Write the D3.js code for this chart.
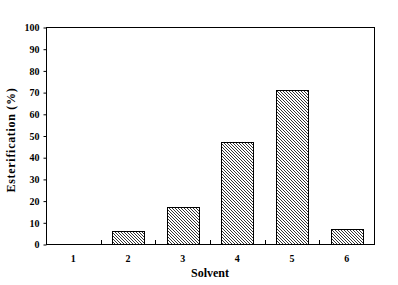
<!DOCTYPE html>
<html><head><meta charset="utf-8">
<script src="https://cdn.jsdelivr.net/npm/d3@7"></script>
<style>body{margin:0;background:#fff}svg{display:block}text{font-family:"Liberation Serif","Times New Roman",serif;font-weight:bold;fill:#000}</style>
</head><body>
<script>
const categories = ["1","2","3","4","5","6"];
const values = [0, 6, 17, 47, 71, 7];
const yTicks = [0,10,20,30,40,50,60,70,80,90,100];
const xTitle = "Solvent";
const yTitle = "Esterification (%)";

const W = 398, H = 285;
const m = {left:46, right:24, top:27, bottom:41};
const svg = d3.select("body").append("svg").attr("width",W).attr("height",H);
const defs = svg.append("defs");
const pat = defs.append("pattern").attr("id","hatch").attr("patternUnits","userSpaceOnUse")
  .attr("width",3).attr("height",3);
pat.append("path").attr("d","M0,0L3,3M-1,2L1,4M2,-1L4,1").attr("stroke","#000").attr("stroke-width",0.8);

const x = d3.scaleBand().domain(categories).range([m.left, W-m.right]).paddingInner(0.41).paddingOuter(0.205);
const xb = d3.scaleBand().domain(categories).range([m.left, W-m.right]);
const y = d3.scaleLinear().domain([0,100]).range([H-m.bottom, m.top]);

svg.selectAll("rect.bar").data(values).join("rect").attr("class","bar")
  .attr("x",(d,i)=>Math.round(x(categories[i]))+0.5).attr("width",Math.round(x.bandwidth()))
  .attr("y",d=>Math.round(y(d))+0.5).attr("height",d=>Math.round(y(0))-Math.round(y(d)))
  .attr("fill","url(#hatch)").attr("stroke","#000").attr("stroke-width",1)
  .style("display",d=>d>0?null:"none");

// frame
svg.append("rect").attr("x",m.left+0.5).attr("y",m.top+0.5).attr("width",W-m.left-m.right).attr("height",H-m.top-m.bottom)
  .attr("fill","none").attr("stroke","#000").attr("stroke-width",1);

// y axis
const ya = svg.append("g").attr("transform",`translate(${m.left+0.5},0.5)`)
  .call(d3.axisLeft(y).tickValues(yTicks).tickSize(3).tickPadding(4).tickFormat(d3.format("d")));
ya.select(".domain").remove();
ya.selectAll("text").attr("font-size",10).style("font-family",'"Liberation Serif",serif').style("font-weight","bold");

// x boundary ticks
const bounds = categories.slice(1).map(c=>xb(c));
svg.selectAll("line.xt").data(bounds).join("line").attr("class","xt")
  .attr("x1",d=>Math.round(d)+0.5).attr("x2",d=>Math.round(d)+0.5)
  .attr("y1",Math.round(y(0))).attr("y2",Math.round(y(0))-4).attr("stroke","#000");

svg.selectAll("text.xl").data(categories).join("text").attr("class","xl")
  .attr("x",d=>xb(d)+xb.bandwidth()/2).attr("y",H-m.bottom+18).attr("text-anchor","middle")
  .attr("font-size",10).text(d=>d);

svg.append("text").attr("x",(m.left+W-m.right)/2).attr("y",H-8).attr("text-anchor","middle").attr("font-size",12).text(xTitle);
svg.append("text").attr("transform",`translate(15,140) rotate(-90)`).attr("text-anchor","middle").attr("font-size",12).attr("letter-spacing",0.7).text(yTitle);
</script>
</body></html>
